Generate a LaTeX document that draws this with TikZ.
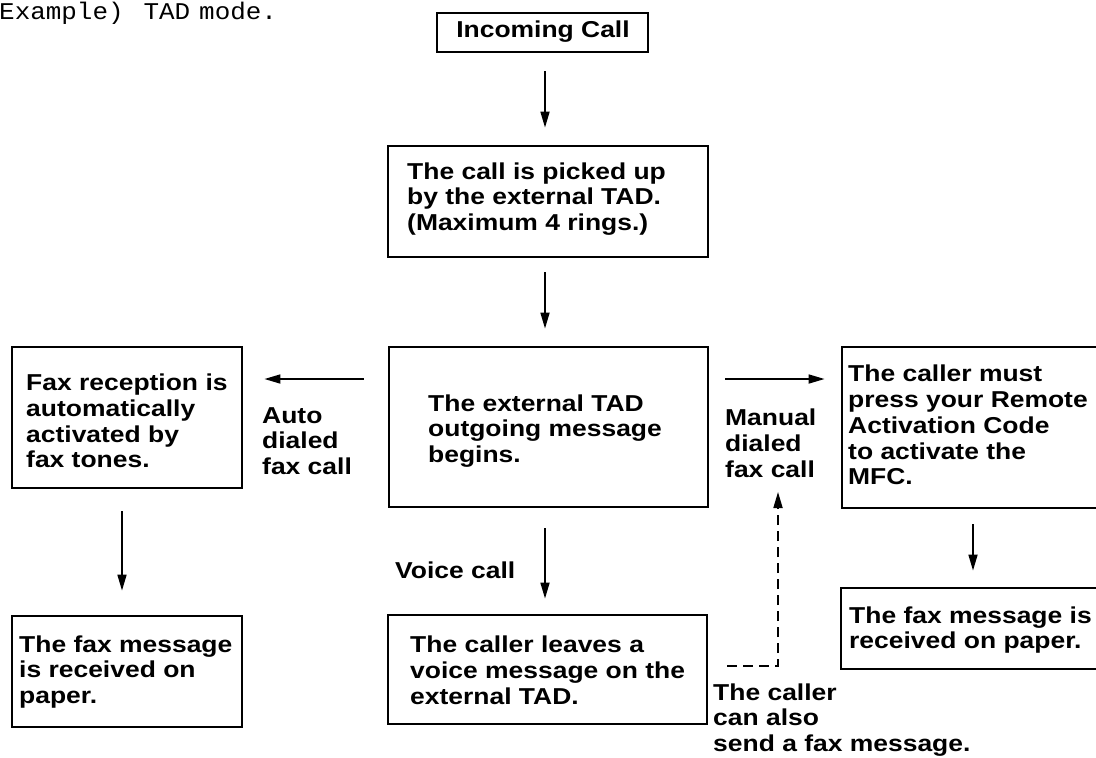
\documentclass[tikz,border=0pt]{standalone}
\usepackage{fontspec}
\setmainfont{Liberation Sans}[FakeStretch=1.15]
\newfontfamily\monof{Liberation Mono}[FakeStretch=1.08]
\usetikzlibrary{arrows.meta}
\begin{document}
\begin{tikzpicture}[x=1pt,y=-1pt,
  box/.style={draw, line width=2.8pt, rectangle, inner sep=0pt},
  txt/.style={anchor=west, align=left, inner sep=0pt, font=\fontsize{23}{25.8}\selectfont\bfseries},
  arr/.style={line width=1.7pt, -{Triangle[length=16pt,width=9pt]}},
  dsh/.style={line width=1.7pt, dash pattern=on 10pt off 6pt, -{Triangle[length=16pt,width=9pt]}}]
\useasboundingbox (0,0) rectangle (1096,758);
\clip (0,0) rectangle (1096,758);
% title
\node[anchor=west, inner sep=0pt, font=\monof\fontsize{24}{26}\selectfont] (title) at (-1,13) {Example)\hspace{20pt}TAD\hspace{9pt}mode.};
% boxes
\node[box, minimum width=211pt, minimum height=39pt] (binc) at (542.5,32.5) {};
\node[box, minimum width=320pt, minimum height=111pt] (bpick) at (548,201.5) {};
\node[box, minimum width=319pt, minimum height=160pt] (bctr) at (548.5,427) {};
\node[box, minimum width=230pt, minimum height=141pt] (blft) at (127,417.5) {};
\node[box, minimum width=230pt, minimum height=111pt] (blb) at (127,671.5) {};
\node[box, minimum width=319pt, minimum height=109pt] (bvoice) at (547.5,669.5) {};
\node[box, minimum width=268pt, minimum height=161pt] (brr) at (976,427.5) {};
\node[box, minimum width=269pt, minimum height=81pt] (brb) at (975.5,628.5) {};
% texts
\node[txt, anchor=center] (tinc) at (543,32) {Incoming Call};
\node[txt] (tpick) at (407,199) {The call is picked up\\by the external TAD.\\(Maximum 4 rings.)};
\node[txt] (tctr) at (428,431) {The external TAD\\outgoing message\\begins.};
\node[txt] (tlft) at (26,421) {Fax reception is\\automatically\\activated by\\fax tones.};
\node[txt] (tlb) at (19,672) {The fax message\\is received on\\paper.};
\node[txt] (tvoice) at (410,670) {The caller leaves a\\voice message on the\\external TAD.};
\node[txt] (trr) at (848,425) {The caller must\\press your Remote\\Activation Code\\to activate the\\MFC.};
\node[txt] (trb) at (849,630) {The fax message is\\received on paper.};
% labels
\node[txt] (lauto) at (262,441) {Auto\\dialed\\fax call};
\node[txt] (lman) at (725,443) {Manual\\dialed\\fax call};
\node[txt] (lvoice) at (395,570) {Voice call};
\node[txt] (lalso) at (713,720) {The caller\\can also\\send a fax message.};
% connectors
\draw[arr, shorten <=18pt, shorten >=17pt] ([xshift=2.5pt]binc.south) coordinate (a1) -- (a1 |- bpick.north);
\draw[arr, shorten <=14pt, shorten >=17pt] ([xshift=-3pt]bpick.south) coordinate (a2) -- (a2 |- bctr.north);
\draw[arr, shorten <=24pt, shorten >=21pt] ([yshift=48pt]bctr.west) coordinate (la) -- (la -| blft.east);
\draw[arr, shorten <=16pt, shorten >=16pt] ([yshift=48pt]bctr.east) coordinate (ra) -- (ra -| brr.west);
\draw[arr, shorten <=22pt, shorten >=24pt] ([xshift=-5pt]blft.south) coordinate (ld) -- (ld |- blb.north);
\draw[arr, shorten <=20pt, shorten >=15pt] ([xshift=-3.5pt]bctr.south) coordinate (cd) -- (cd |- bvoice.north);
\draw[arr, shorten <=15pt, shorten >=16pt] ([xshift=-3pt]brr.south) coordinate (rd) -- (rd |- brb.north);
\coordinate (d0) at (727,666);
\coordinate (d1) at (778,492);
\draw[dsh] (d0) -| (d1);
\end{tikzpicture}
\end{document}
